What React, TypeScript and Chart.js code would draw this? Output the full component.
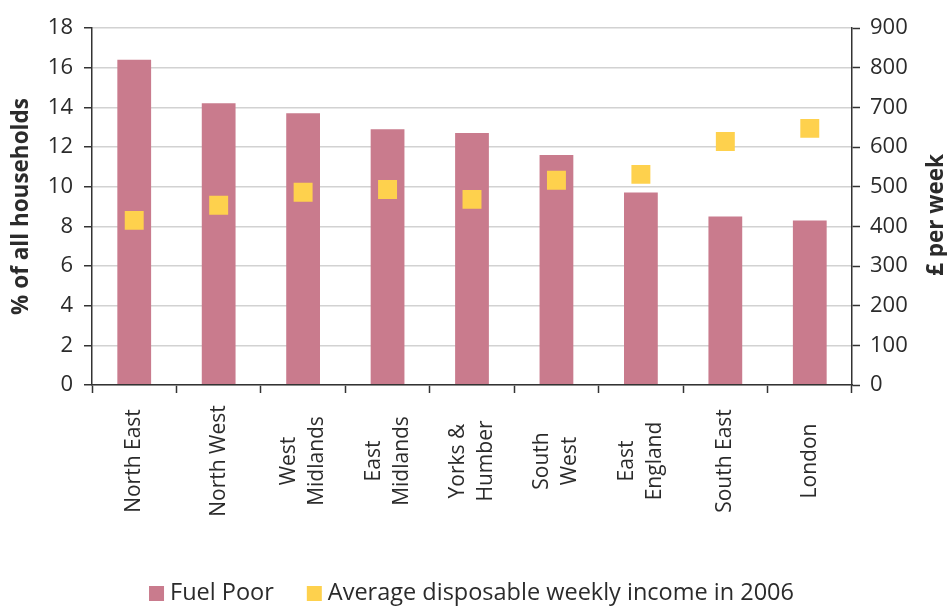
import { useEffect, useRef } from "react";
import { Chart, registerables } from "chart.js";

Chart.register(...registerables);

const categories: string[][] = [
  ["North East"],
  ["North West"],
  ["West", "Midlands"],
  ["East", "Midlands"],
  ["Yorks &", "Humber"],
  ["South", "West"],
  ["East", "England"],
  ["South East"],
  ["London"],
];
const fuelPoor = [16.4, 14.2, 13.7, 12.9, 12.7, 11.6, 9.7, 8.5, 8.3];
const income = [415, 453, 486, 493, 468, 516, 531, 614, 647];
const seriesNames = ["Fuel Poor", "Average disposable weekly income in 2006"];
const leftTitle = "% of all households";
const rightTitle = "£ per week";

const FONT = "'Open Sans', 'Noto Sans', sans-serif";
const TEXT = "#2b2b2b";
const AXIS = "#333333";
const GRID = "#d2d2d2";
const PINK = "#C97B8D";
const YELLOW = "#FED14D";

const extraText = {
  id: "extraText",
  afterDraw(chart: any) {
    const ctx = chart.ctx;
    const x = chart.scales.x;
    ctx.save();
    ctx.fillStyle = TEXT;
    ctx.font = `21px ${FONT}`;
    ctx.textAlign = "center";
    ctx.textBaseline = "middle";
    const lineGap = 28;
    categories.forEach((lines, i) => {
      const cx = x.getPixelForTick(i);
      const n = lines.length;
      lines.forEach((line, k) => {
        const lx = cx + (k - (n - 1) / 2) * lineGap;
        ctx.save();
        ctx.translate(lx, 461);
        ctx.rotate(-Math.PI / 2);
        ctx.fillText(line, 0, 0);
        ctx.restore();
      });
    });

    // right axis title (reads bottom-to-top like the left one)
    ctx.save();
    ctx.font = `bold 22.5px ${FONT}`;
    ctx.translate(937, 215);
    ctx.rotate(-Math.PI / 2);
    ctx.fillText(rightTitle, 0, 0);
    ctx.restore();

    // legend
    const colors = [PINK, YELLOW];
    ctx.font = `23.5px ${FONT}`;
    ctx.textAlign = "left";
    const box = 15;
    const gap = 6;
    const itemGap = 33;
    const widths = seriesNames.map((s) => ctx.measureText(s).width);
    const total = widths.reduce((a, w) => a + box + gap + w, 0) + itemGap * (seriesNames.length - 1);
    let lx = chart.width / 2 - 2 - total / 2;
    const ly = 593;
    seriesNames.forEach((name, i) => {
      ctx.fillStyle = colors[i];
      ctx.fillRect(lx, ly - 7, box, box);
      ctx.fillStyle = TEXT;
      ctx.fillText(name, lx + box + gap, ly);
      lx += box + gap + widths[i] + itemGap;
    });
    ctx.restore();
  },
};

export default function App() {
  const ref = useRef<HTMLCanvasElement | null>(null);
  useEffect(() => {
    document.body.style.margin = "0";
    if (!ref.current) return;
    Chart.defaults.font.family = FONT;
    Chart.defaults.color = TEXT;
    const chart = new Chart(ref.current, {
      type: "bar",
      data: {
        labels: categories.map((c) => c.join(" ")),
        datasets: [
          {
            type: "line",
            label: seriesNames[1],
            data: income,
            yAxisID: "y1",
            showLine: false,
            pointStyle: "rect",
            pointRadius: 13.4,
            pointHoverRadius: 13.4,
            pointBorderWidth: 0,
            borderWidth: 0,
            backgroundColor: YELLOW,
            borderColor: YELLOW,
            order: 1,
          } as any,
          {
            type: "bar",
            label: seriesNames[0],
            data: fuelPoor,
            yAxisID: "y",
            backgroundColor: PINK,
            borderWidth: 0,
            categoryPercentage: 1,
            barPercentage: 0.4,
            order: 2,
          },
        ],
      },
      options: {
        responsive: false,
        animation: false,
        layout: { padding: { top: 28, left: 0, right: 0, bottom: 0 } },
        plugins: {
          tooltip: { enabled: false },
          legend: { display: false },
        },
        scales: {
          x: {
            type: "category",
            offset: true,
            grid: {
              offset: true,
              drawOnChartArea: false,
              drawTicks: true,
              tickLength: 8,
              tickColor: AXIS,
              tickWidth: 1.5,
            },
            border: { color: AXIS, width: 1.5, z: 1 },
            ticks: { display: false },
            afterFit: (s: any) => {
              s.height = 221;
            },
          },
          y: {
            position: "left",
            min: 0,
            max: 18,
            ticks: { stepSize: 2, padding: 11, color: TEXT, font: { size: 22 } },
            grid: {
              color: GRID,
              lineWidth: 1.5,
              tickColor: AXIS,
              tickLength: 8,
              tickWidth: 1.5,
              z: -1,
            },
            border: { color: AXIS, width: 1.5 },
            title: {
              display: true,
              text: leftTitle,
              color: TEXT,
              font: { size: 22.5, weight: "bold" },
              padding: { top: 8, bottom: 0 },
            },
            afterFit: (s: any) => {
              s.width = 92;
            },
          },
          y1: {
            position: "right",
            min: 0,
            max: 900,
            ticks: { stepSize: 100, padding: 10, color: TEXT, font: { size: 22 } },
            grid: {
              drawOnChartArea: false,
              tickColor: AXIS,
              tickLength: 8,
              tickWidth: 1.5,
            },
            border: { color: AXIS, width: 1.5 },
            afterFit: (s: any) => {
              s.width = 95;
            },
          },
        },
      },
      plugins: [extraText],
    });
    return () => chart.destroy();
  }, []);
  return (
    <div style={{ width: 947, height: 606 }}>
      <canvas ref={ref} width={947} height={606} style={{ width: 947, height: 606, display: "block" }} />
    </div>
  );
}
